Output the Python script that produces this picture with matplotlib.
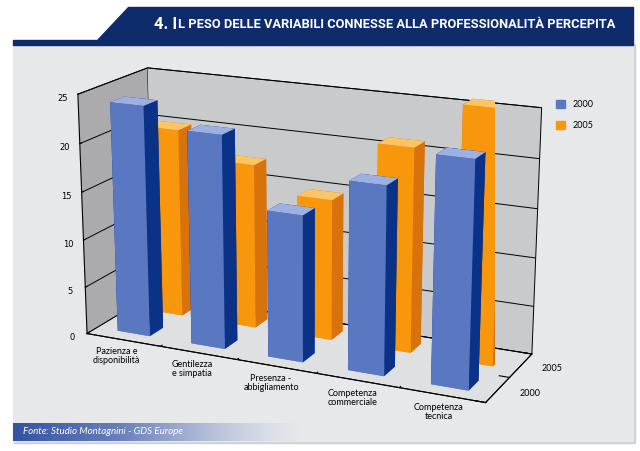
import numpy as np
import matplotlib
matplotlib.use('Agg')
import matplotlib.pyplot as plt
from matplotlib.patches import Polygon, Rectangle, Patch

# data
categories = ["Pazienza e\ndisponibilità", "Gentilezza\ne simpatia", "Presenza -\nabbigliamento",
              "Competenza\ncommerciale", "Competenza\ntecnica"]
series = ["2000", "2005"]
values_2000 = [24, 22, 15, 19, 22.5]
values_2005 = [20, 17.3, 14.7, 21, 25.7]
z_ticks = [0, 5, 10, 15, 20, 25]

title_big = "4. I"
title_small = "L PESO DELLE VARIABILI CONNESSE ALLA PROFESSIONALITÀ PERCEPITA"
source = "Fonte: Studio Montagnini - GDS Europe"

BLUE = ('#5a78c2', '#0b3286', '#9db0e2')     # front, side, top
ORANGE = ('#f8960c', '#d8720a', '#fcc463')
NAVY = '#0e2b6c'
FONT = 'Lato'

fig = plt.figure(figsize=(6.4, 4.51), dpi=100)

# background panel, banner and footer in pixel coordinates
bg = fig.add_axes([0, 0, 1, 1])
bg.set_xlim(0, 640)
bg.set_ylim(451, 0)
bg.axis('off')
bg.add_patch(Rectangle((14, 44), 621, 399, color='#cfd0d2'))
bg.add_patch(Rectangle((13, 43), 620, 398, color='#e7e8ea'))
bg.add_patch(Polygon([(128, 7), (633, 7), (633, 45), (13, 45), (13, 40), (97, 40)],
                     closed=True, color=NAVY))

# footer gradient
grad = np.zeros((1, 300, 4))
t = np.linspace(0, 1, 300)
grad[0, :, 0] = 0.20 + 0.55 * t
grad[0, :, 1] = 0.33 + 0.45 * t
grad[0, :, 2] = 0.64 + 0.25 * t
grad[0, :, 3] = np.clip(1.15 - t ** 2 * 1.15, 0, 1)
bg.imshow(grad, extent=(13, 300, 441, 423), aspect='auto', zorder=2)
bg.text(23, 432, source, color='white', style='italic', fontsize=7, va='center',
        family=FONT, zorder=3)

# 3D chart
ax = fig.add_axes([0.03, 0.06, 0.88, 0.86], projection='3d')
ax.set_facecolor((0, 0, 0, 0))
ax.set_proj_type('persp', focal_length=0.85)
ax.view_init(elev=17, azim=-65)
ax.set_box_aspect((5.5, 1.75, 3.2), zoom=1.31)

xs, ys, dzs, cols = [], [], [], []
for j, (vals, c) in enumerate([(values_2000, BLUE), (values_2005, ORANGE)]):
    for i, v in enumerate(vals):
        xs.append(i + 0.28)
        ys.append(j + 0.3)
        dzs.append(v)
        # faces: -z, +z, -y, +y, -x, +x
        cols += [c[0], c[2], c[0], c[1], c[1], c[1]]
ax.bar3d(xs, ys, np.zeros(len(xs)), 0.44, 0.4, dzs, color=cols, shade=False)

ax.set_xlim(0, 5)
ax.set_ylim(0, 2)
ax.set_zlim(0, 25)
ax.set_xticks(range(6))
ax.set_xticklabels([])
ax.set_yticks([0, 1, 2])
ax.set_yticklabels([])
ax.set_zticks(z_ticks)
ax.zaxis.set_ticks_position('lower')
ax.tick_params(axis='z', labelsize=6, pad=-3)

ax.xaxis.set_pane_color('#ababad')
ax.yaxis.set_pane_color('#c9cacc')
ax.zaxis.set_pane_color('#dfe0e2')
for a in (ax.xaxis, ax.yaxis, ax.zaxis):
    a.pane.set_edgecolor('black')
    a.pane.set_linewidth(0.7)
    a.line.set_color('black')
    a.line.set_linewidth(0.8)
    a._axinfo['tick']['inward_factor'] = 0.0
    a._axinfo['tick']['outward_factor'] = 0.3
    a._axinfo['tick']['color'] = 'black'
ax.xaxis._axinfo['grid']['color'] = (0, 0, 0, 0)
ax.yaxis._axinfo['grid']['color'] = (0, 0, 0, 0)
ax.zaxis._axinfo['grid']['color'] = 'black'
ax.zaxis._axinfo['grid']['linewidth'] = 0.7

for i, c in enumerate(categories):
    ax.text(i + 0.55, -0.3, 0, c, ha='center', va='top', fontsize=6.5,
            family=FONT, linespacing=1.0)
for j, s in enumerate(series):
    ax.text(5.25, j + 0.5, 0, s, ha='left', va='center', fontsize=6.5, family=FONT)

fig.legend(handles=[Patch(color=BLUE[0], label=series[0]), Patch(color=ORANGE[0], label=series[1])],
           loc='upper left', bbox_to_anchor=(548 / 640, 1 - 92 / 451), frameon=False,
           handlelength=1.0, handleheight=1.0, labelspacing=1.3,
           prop={'family': FONT, 'size': 6.5})

# small-caps style title
renderer = fig.canvas.get_renderer()
t2 = bg.text(615, 24, title_small, color='white', fontsize=9.3, fontweight='bold',
             family='Roboto', ha='right', va='center')
ext = t2.get_window_extent(renderer)
x_left = bg.transData.inverted().transform((ext.x0, ext.y0))[0]
bg.text(x_left, 24.8, title_big, color='white', fontsize=12, fontweight='bold',
        family='Roboto', ha='right', va='center')

fig.savefig('out.png', dpi=100)
